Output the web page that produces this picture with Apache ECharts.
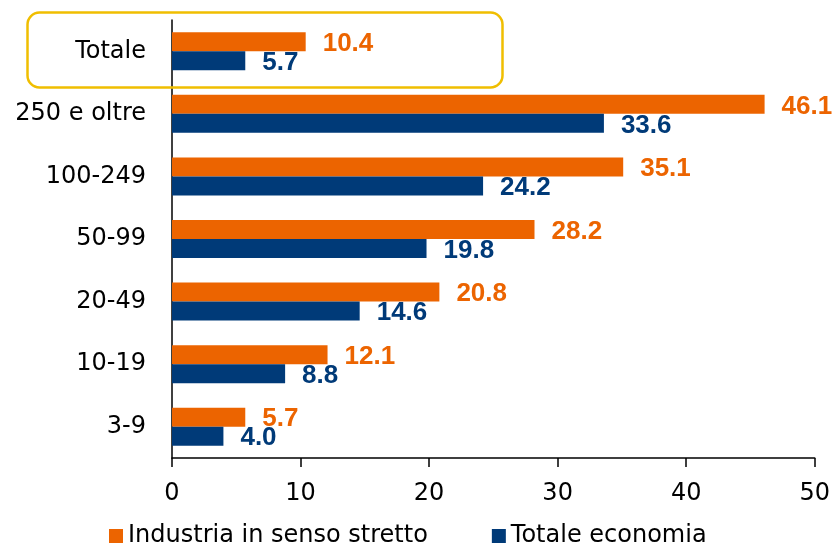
<!DOCTYPE html>
<html>
<head>
<meta charset="utf-8">
<script src="https://cdn.jsdelivr.net/npm/echarts@6/dist/echarts.min.js"></script>
<style>
   html, body { margin: 0; padding: 0; background: #fff; }
   #chart { width: 833px; height: 546px; }
</style>
</head>
<body>
<div id="chart"></div>
<script>
   // categorie (dal basso verso l'alto)
   var categories = ['3-9', '10-19', '20-49', '50-99', '100-249', '250 e oltre', 'Totale'];
   var industria = [5.7, 12.1, 20.8, 28.2, 35.1, 46.1, 10.4];
   var totaleEconomia = [4.0, 8.8, 14.6, 19.8, 24.2, 33.6, 5.7];
   var xTicks = [0, 10, 20, 30, 40, 50];

   var orange = '#EC6400';
   var navy = '#003A78';
   var labelFont = 'Liberation Sans';
   var textFont = 'DejaVu Sans';

   var myChart = echarts.init(document.getElementById('chart'));

   var option = {
      animation: false,
      grid: { left: 172, right: 18, top: 20, bottom: 88 },
      legend: {
         top: 519,
         left: 104,
         itemWidth: 14,
         itemHeight: 14,
         itemGap: 64,
         icon: 'rect',
         textStyle: { fontFamily: textFont, fontSize: 24, color: '#000' },
         data: ['Industria in senso stretto', 'Totale economia']
      },
      xAxis: {
         type: 'value',
         min: xTicks[0],
         max: xTicks[xTicks.length - 1],
         interval: 10,
         axisLine: { show: true, lineStyle: { color: '#000', width: 1.5 } },
         axisTick: { show: true, length: 9, lineStyle: { color: '#000', width: 1.5 } },
         splitLine: { show: false },
         axisLabel: { fontFamily: textFont, fontSize: 24, color: '#000', margin: 24 }
      },
      yAxis: {
         type: 'category',
         data: categories,
         axisLine: { show: true, lineStyle: { color: '#000', width: 1.5 } },
         axisTick: { show: false },
         axisLabel: { fontFamily: textFont, fontSize: 24, color: '#000', margin: 26 }
      },
      series: [
         {
            name: 'Industria in senso stretto',
            type: 'bar',
            data: industria,
            barWidth: 19,
            barGap: '0%',
            itemStyle: { color: orange },
            label: {
               show: true,
               position: 'right',
               distance: 17,
               offset: [0, 2],
               formatter: function(p){ return p.value.toFixed(1); },
               fontFamily: labelFont,
               fontWeight: 'bold',
               fontSize: 26,
               color: orange
            }
         },
         {
            name: 'Totale economia',
            type: 'bar',
            data: totaleEconomia,
            barWidth: 19,
            barGap: '0%',
            itemStyle: { color: navy },
            label: {
               show: true,
               position: 'right',
               distance: 17,
               offset: [0, 2],
               formatter: function(p){ return p.value.toFixed(1); },
               fontFamily: labelFont,
               fontWeight: 'bold',
               fontSize: 26,
               color: navy
            }
         }
      ],
      // riquadro attorno a "Totale"
      graphic: [
         {
            type: 'rect',
            left: 25,
            top: 10,
            shape: { width: 475, height: 75, r: 12 },
            style: { fill: 'none', stroke: '#F0BE00', lineWidth: 2.5 },
            z: 100
         }
      ]
   };
   myChart.setOption(option);
</script>
</body>
</html>
